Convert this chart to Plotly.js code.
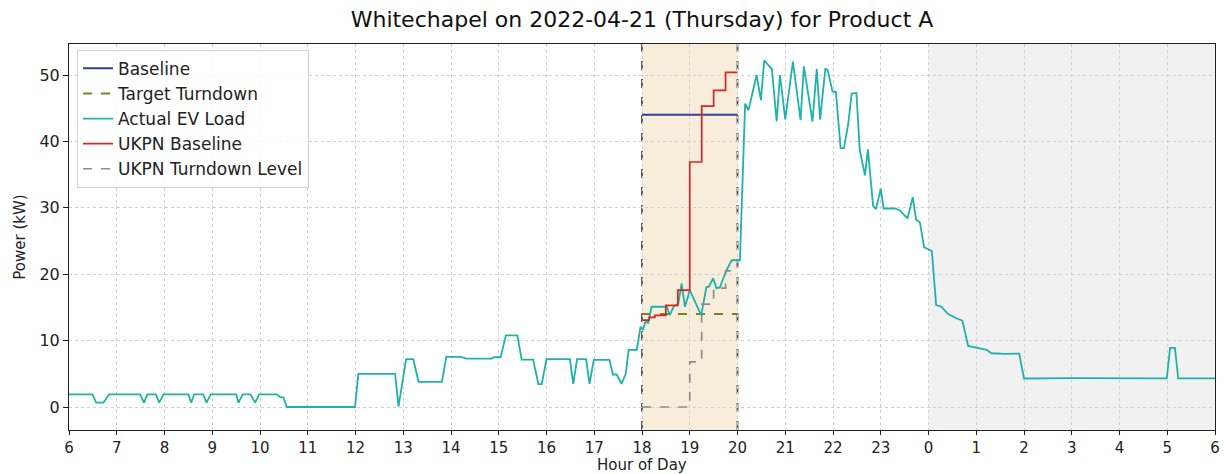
<!DOCTYPE html>
<html>
<head>
<meta charset="utf-8">
<script src="https://cdn.plot.ly/plotly-3.0.1.min.js"></script>
<style>
  html, body { margin: 0; padding: 0; background: #ffffff; }
  #chart { width: 1224px; height: 474px; }
</style>
</head>
<body>
<div id="chart"></div>
<script>
// Hours run from 06:00 to 06:00 the next day; values past 24 belong to the next morning.
const loadHours = [
  6.00, 6.49, 6.57, 6.72, 6.84, 7.49, 7.57, 7.64, 7.82, 7.89, 7.98,
  8.50, 8.56, 8.62, 8.81, 8.88, 8.97, 9.50, 9.55, 9.64, 9.80, 9.90, 9.98,
  10.35, 10.43, 10.49, 10.56, 11.99, 12.06, 12.83, 12.90, 13.06, 13.21, 13.32,
  13.81, 13.90, 14.20, 14.33, 14.85, 14.90, 15.04, 15.15, 15.39, 15.48, 15.72,
  15.83, 15.90, 16.00, 16.49, 16.56, 16.64, 16.83, 16.90, 16.99, 17.32, 17.39,
  17.47, 17.57, 17.66, 17.72, 17.89, 17.97, 18.02, 18.08, 18.13, 18.20, 18.52,
  18.58, 18.66, 18.76, 18.83, 18.90, 19.00, 19.12, 19.24, 19.35, 19.40, 19.49,
  19.56, 19.63, 19.77, 19.88, 20.05, 20.16, 20.23, 20.40, 20.49, 20.56, 20.72,
  20.82, 20.89, 21.00, 21.16, 21.32, 21.39, 21.57, 21.66, 21.73, 21.84, 21.89,
  21.99, 22.06, 22.16, 22.23, 22.32, 22.39, 22.49, 22.56, 22.67, 22.73, 22.84,
  22.90, 23.00, 23.06, 23.30, 23.40, 23.56, 23.67, 23.74, 23.82, 23.91, 24.07,
  24.16, 24.27, 24.41, 24.57, 24.71, 24.83, 25.01, 25.22, 25.32, 25.60, 25.90,
  26.00, 27.00, 28.00, 28.99, 29.06, 29.16, 29.23, 30.00
];
const loadKw = [
  1.9, 1.9, 0.65, 0.65, 1.9, 1.9, 0.65, 1.9, 1.9, 0.65, 1.9,
  1.9, 0.65, 1.9, 1.9, 0.65, 1.9, 1.9, 0.65, 1.9, 1.9, 0.65, 1.9,
  1.9, 1.45, 1.45, 0.0, 0.0, 5.0, 5.0, 0.05, 7.2, 7.2, 3.8,
  3.8, 7.55, 7.55, 7.3, 7.3, 7.5, 7.5, 10.8, 10.8, 7.15, 7.15,
  3.45, 3.45, 7.2, 7.2, 3.5, 7.2, 7.2, 3.5, 7.1, 7.1, 4.9,
  4.9, 3.5, 5.0, 8.6, 8.6, 12.1, 11.6, 13.1, 12.6, 15.1, 15.1,
  13.85, 15.1, 15.6, 18.6, 15.1, 17.6, 15.6, 13.85, 18.1, 18.1, 19.4,
  17.9, 18.0, 20.6, 22.1, 22.1, 45.7, 44.7, 50.0, 46.2, 52.2, 50.9,
  43.0, 50.0, 43.3, 52.0, 43.2, 51.3, 43.0, 50.9, 43.3, 51.0, 50.7,
  47.5, 47.5, 39.0, 39.0, 42.7, 47.2, 47.3, 38.7, 34.9, 38.8, 30.3,
  29.8, 32.9, 29.9, 29.9, 29.6, 28.4, 31.6, 28.2, 27.8, 24.05, 23.5,
  15.36, 15.1, 14.0, 13.4, 13.0, 9.2, 8.9, 8.6, 8.1, 8.0, 8.05,
  4.3, 4.35, 4.3, 4.3, 8.9, 8.9, 4.3, 4.3
];

// Event window and its reference levels
const baselineHours = [18, 20];
const baselineKw = [44.0, 44.0];
const targetHours = [18, 20];
const targetKw = [14.0, 14.0];

// UKPN step values (each held until the next point)
const ukpnBaseHours = [18.0, 18.15, 18.27, 18.5, 18.75, 19.0, 19.25, 19.5, 19.75, 20.0];
const ukpnBaseKw = [13.1, 13.5, 13.8, 15.3, 17.6, 36.9, 45.3, 47.7, 50.4, 50.4];
const ukpnTurnHours = [18.0, 19.0, 19.25, 19.5, 19.75, 20.0];
const ukpnTurnKw = [0.0, 6.8, 15.5, 17.9, 20.5, 20.5];

// Axis ticks: every hour, wrapping past midnight
const tickHours = [6,7,8,9,10,11,12,13,14,15,16,17,18,19,20,21,22,23,24,25,26,27,28,29,30];
const tickLabels = ['6','7','8','9','10','11','12','13','14','15','16','17','18','19','20','21','22','23','0','1','2','3','4','5','6'];

const FONT = 'DejaVu Sans, Liberation Sans, sans-serif';
const PLOT_H = 474 - 44 - 44;

const traces = [
  { x: baselineHours, y: baselineKw, name: 'Baseline', mode: 'lines',
    line: { color: '#333f94', width: 2 } },
  { x: targetHours, y: targetKw, name: 'Target Turndown', mode: 'lines',
    line: { color: '#7f7f2c', width: 2, dash: 'dash' } },
  { x: loadHours, y: loadKw, name: 'Actual EV Load', mode: 'lines',
    line: { color: '#20b2aa', width: 1.8 } },
  { x: ukpnBaseHours, y: ukpnBaseKw, name: 'UKPN Baseline', mode: 'lines',
    line: { color: '#d62728', width: 1.7, shape: 'hv' } },
  { x: ukpnTurnHours, y: ukpnTurnKw, name: 'UKPN Turndown Level', mode: 'lines',
    line: { color: '#8c8c8c', width: 1.7, dash: 'dash', shape: 'hv' } }
];

const layout = {
  width: 1224,
  height: 474,
  margin: { l: 69, r: 9, t: 44, b: 44 },
  paper_bgcolor: '#ffffff',
  plot_bgcolor: '#ffffff',
  font: { family: FONT, size: 15, color: '#222222' },
  title: {
    text: 'Whitechapel on 2022-04-21 (Thursday) for Product A',
    x: 0.5, xref: 'paper', xanchor: 'center',
    y: 1 - 19 / 474, yref: 'container', yanchor: 'middle',
    font: { family: FONT, size: 22, color: '#111111' }
  },
  xaxis: {
    range: [6, 30],
    tickmode: 'array', tickvals: tickHours, ticktext: tickLabels,
    ticks: 'outside', ticklen: 4, tickwidth: 1, tickcolor: '#222222',
    showline: true, linecolor: '#222222', linewidth: 1, mirror: true,
    showgrid: true, gridcolor: '#cfcfcf', gridwidth: 1, griddash: 'dot',
    zeroline: false,
    tickfont: { family: FONT, size: 15, color: '#222222' }
  },
  yaxis: {
    range: [-3.46, 54.67],
    tickmode: 'array', tickvals: [0, 10, 20, 30, 40, 50],
    ticks: 'outside', ticklen: 5, tickwidth: 1, tickcolor: '#222222',
    showline: true, linecolor: '#222222', linewidth: 1, mirror: true,
    showgrid: true, gridcolor: '#cfcfcf', gridwidth: 1, griddash: 'dot',
    zeroline: false,
    tickfont: { family: FONT, size: 16, color: '#222222' },
    title: { text: 'Power (kW)', standoff: 10, font: { family: FONT, size: 15, color: '#222222' } }
  },
  // x-axis title sits in the bottom margin below the hour labels
  annotations: [
    { text: 'Hour of Day', xref: 'paper', yref: 'paper', x: 0.5, y: -35.5 / PLOT_H,
      xanchor: 'center', yanchor: 'middle', showarrow: false, borderpad: 0,
      font: { family: FONT, size: 15, color: '#222222' } }
  ],
  legend: {
    x: 0.007, y: 0.985, xanchor: 'left', yanchor: 'top',
    bgcolor: 'rgba(255,255,255,0.85)', bordercolor: '#d0d0d0', borderwidth: 1,
    font: { family: FONT, size: 17, color: '#222222' },
    tracegroupgap: 0
  },
  shapes: [
    // overnight period
    { type: 'rect', xref: 'x', yref: 'paper', x0: 24, x1: 30, y0: 0, y1: 1,
      fillcolor: '#f1f1f1', line: { width: 0 }, layer: 'below' },
    // turndown event window
    { type: 'rect', xref: 'x', yref: 'paper', x0: 18, x1: 20, y0: 0, y1: 1,
      fillcolor: '#f7edda', line: { width: 0 }, layer: 'below' },
    { type: 'line', xref: 'x', yref: 'paper', x0: 18, x1: 18, y0: 0, y1: 1,
      line: { color: '#505050', width: 1.8, dash: 'dash' }, layer: 'between' },
    { type: 'line', xref: 'x', yref: 'paper', x0: 20, x1: 20, y0: 0, y1: 1,
      line: { color: '#505050', width: 1.8, dash: 'dash' }, layer: 'between' }
  ]
};

Plotly.newPlot('chart', traces, layout, { displayModeBar: false, responsive: false, staticPlot: true });
</script>
</body>
</html>
